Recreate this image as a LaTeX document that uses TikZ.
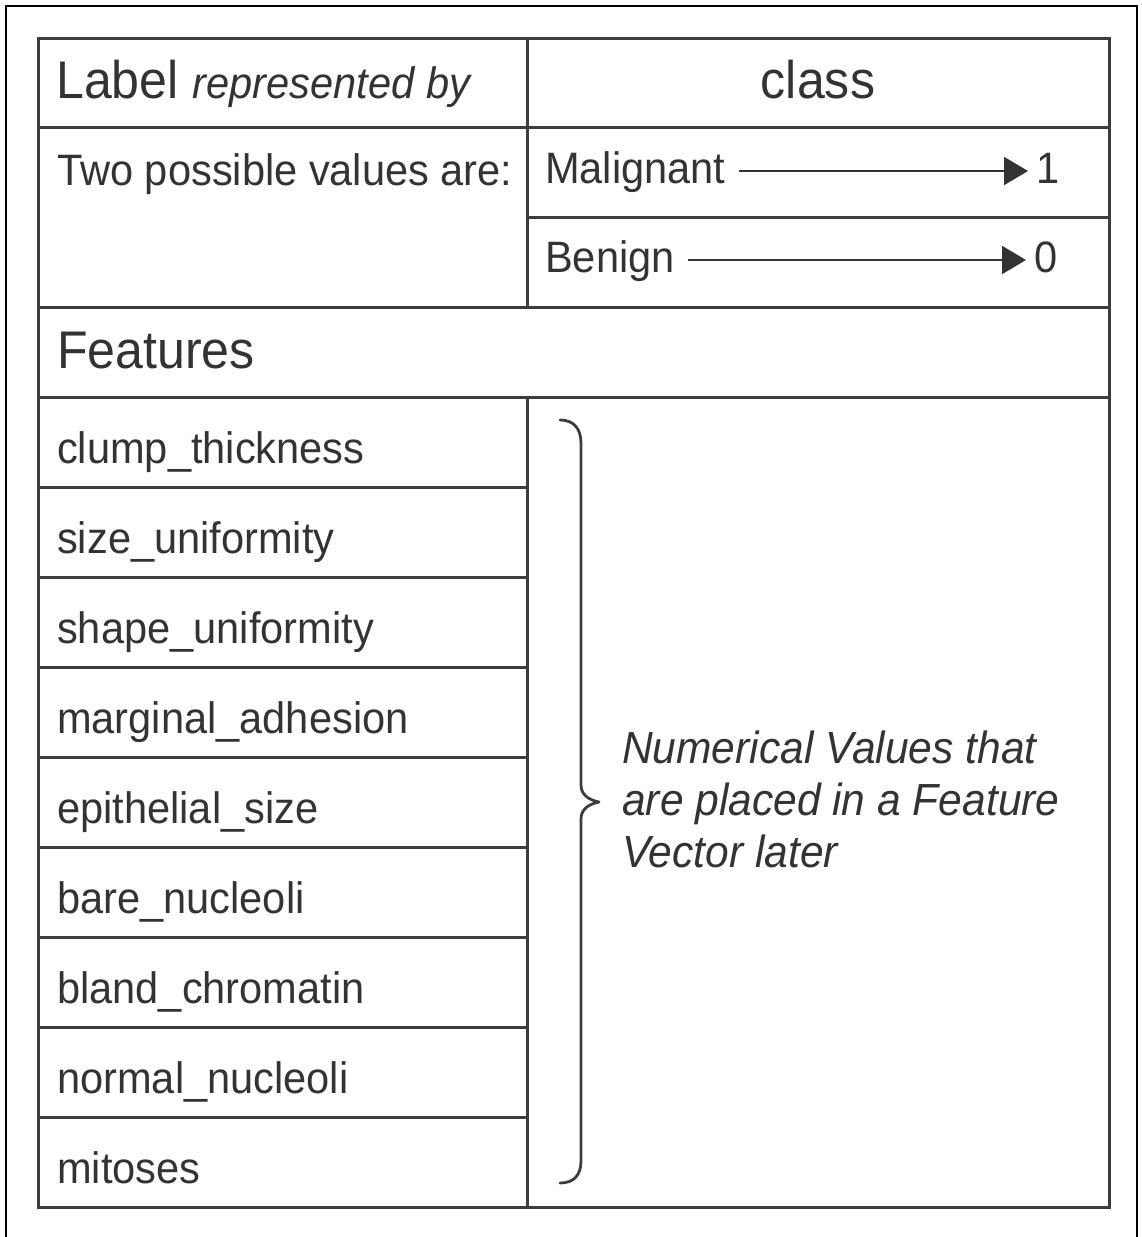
\documentclass[tikz,border=0pt]{standalone}
\usepackage{fontspec}
\setmainfont{Liberation Sans}[FakeStretch=0.945]
\usetikzlibrary{arrows.meta}
\definecolor{ink}{HTML}{333333}
\definecolor{rule}{HTML}{3d3d3d}
\begin{document}
\begin{tikzpicture}[x=1pt,y=-1pt,
  grid/.style={draw=rule,line width=3pt,line cap=rect},
  frame/.style={draw=black,line width=2.8pt},
  txt/.style={inner sep=0pt,anchor=base west,text=ink,font=\fontsize{44}{52}\selectfont},
  head/.style={txt,font=\fontsize{53}{60}\selectfont},
  note/.style={txt,font=\fontsize{45}{52}\selectfont\itshape},
  maparrow/.style={draw=ink,line width=2pt,-{Triangle[length=24pt,width=28pt]},shorten <=13pt,shorten >=8pt},
  bracestyle/.style={draw=rule,line width=2.8pt,line cap=round,line join=round}]
\useasboundingbox (0,0) rectangle (1141,1237);

% outer frame (open at the bottom)
\draw[frame] (6,1240) -- (6,6) -- (1137,6) -- (1137,1240);

% table grid
\draw[grid] (38,38) rectangle (1109,1207);
\draw[grid] (38,127) -- (1109,127);
\draw[grid] (527,217) -- (1109,217);
\draw[grid] (38,307) -- (1109,307);
\draw[grid] (38,397) -- (1109,397);
\draw[grid] (527,38) -- (527,307);
\draw[grid] (527,397) -- (527,1207);
\foreach \y in {487,577,667,757,847,937,1027,1117}
  \draw[grid] (38,\y) -- (527,\y);

% label rows
\node[head] (label) at (56,98) {Label {\fontsize{44}{52}\selectfont\itshape represented by}};
\node[head,anchor=base] (class) at (818,98) {class};
\node[txt] (two) at (57,185) {Two possible values are:};
\node[txt] (mal) at (545,183) {Malignant};
\node[txt] (one) at (1036,183) {1};
\node[txt] (ben) at (545,272) {Benign};
\node[txt] (zero) at (1034,272) {0};
\draw[maparrow] ([yshift=12pt]mal.base east) -- ([yshift=12pt]one.base west);
\draw[maparrow] ([yshift=12pt]ben.base east) -- ([yshift=12pt]zero.base west);

% features
\node[head] (feat) at (57,368) {Features};
\node[txt] (f1) at (57,463) {clump\_thickness};
\node[txt] (f2) at (57,553) {size\_uniformity};
\node[txt] (f3) at (57,643) {shape\_uniformity};
\node[txt] (f4) at (57,733) {marginal\_adhesion};
\node[txt] (f5) at (57,823) {epithelial\_size};
\node[txt] (f6) at (57,913) {bare\_nucleoli};
\node[txt] (f7) at (57,1003) {bland\_chromatin};
\node[txt] (f8) at (57,1093) {normal\_nucleoli};
\node[txt] (f9) at (57,1183) {mitoses};

% brace grouping the features
\draw[bracestyle] (560,420) .. controls (574,420) and (581,429) .. (581,443)
  -- (581,785) .. controls (581,795) and (589,800) .. (599,802)
  .. controls (589,804) and (581,809) .. (581,819)
  -- (581,1161) .. controls (581,1175) and (574,1183) .. (560,1183);

\node[note] (n1) at (622,763) {Numerical Values that};
\node[note] (n2) at (622,815) {are placed in a Feature};
\node[note] (n3) at (622,867) {Vector later};
\end{tikzpicture}
\end{document}
